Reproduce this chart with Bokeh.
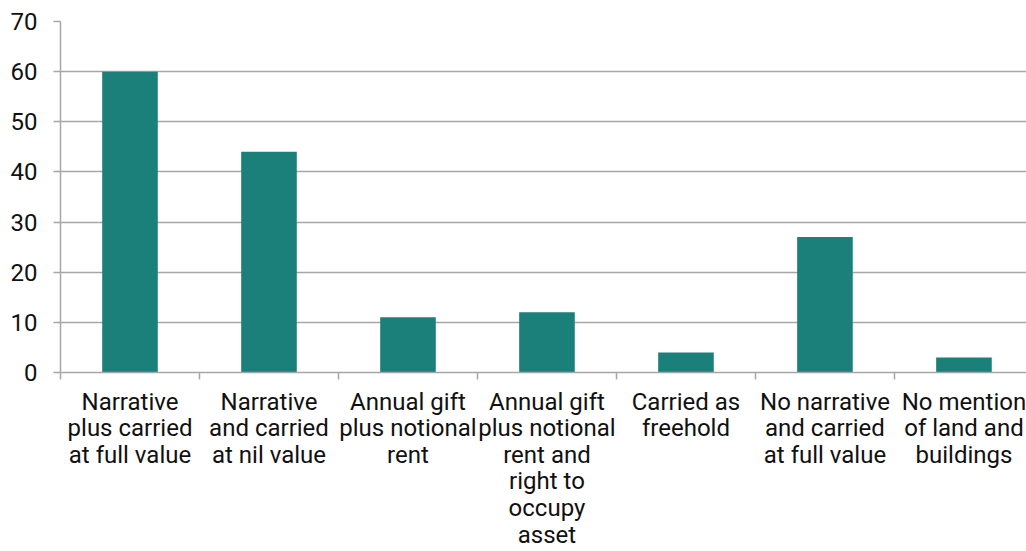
from bokeh.plotting import figure
from bokeh.models import Range1d, FixedTicker, ColumnDataSource
from bokeh.embed import file_html
from bokeh.resources import INLINE

categories = [
    "Narrative\nplus carried\nat full value",
    "Narrative\nand carried\nat nil value",
    "Annual gift\nplus notional\nrent",
    "Annual gift\nplus notional\nrent and\nright to\noccupy\nasset",
    "Carried as\nfreehold",
    "No narrative\nand carried\nat full value",
    "No mention\nof land and\nbuildings",
]
values = [60, 44, 11, 12, 4, 27, 3]
y_ticks = [0, 10, 20, 30, 40, 50, 60, 70]

n = len(categories)
centers = [i + 0.5 for i in range(n)]
src = ColumnDataSource(dict(x=centers, top=values))

p = figure(width=1026, height=551, output_backend="svg", toolbar_location=None,
           x_range=Range1d(0, 6.95), y_range=Range1d(0, 70),
           min_border_left=60, min_border_right=0, min_border_top=21, min_border_bottom=177)
p.outline_line_color = None
p.background_fill_color = "white"

p.vbar(x="x", top="top", width=0.4, bottom=0, source=src, color="#1b7f7a", line_color=None)

FONT = "Roboto"
TXT = "#111111"
GREY = "#a6a6a6"

xa = p.xaxis[0]
xa.ticker = FixedTicker(ticks=centers, minor_ticks=list(range(n + 1)))
xa.major_label_overrides = {c: lab for c, lab in zip(centers, categories)}
xa.major_tick_line_color = None
xa.major_tick_out = 0
xa.major_tick_in = 0
xa.minor_tick_out = 7
xa.minor_tick_in = 0
xa.minor_tick_line_color = GREY
xa.minor_tick_line_width = 1.5
xa.axis_line_color = GREY
xa.axis_line_width = 1.5
xa.major_label_text_font = FONT
xa.major_label_text_font_size = "24px"
xa.major_label_text_color = TXT
xa.major_label_standoff = 8
xa.major_label_text_line_height = 0.95

ya = p.yaxis[0]
ya.ticker = FixedTicker(ticks=y_ticks)
ya.axis_line_color = GREY
ya.axis_line_width = 1.5
ya.major_tick_out = 7
ya.major_tick_in = 0
ya.major_tick_line_color = GREY
ya.major_tick_line_width = 1.5
ya.minor_tick_line_color = None
ya.major_label_text_font = FONT
ya.major_label_text_font_size = "24px"
ya.major_label_text_color = TXT
ya.major_label_standoff = 16

p.xgrid.grid_line_color = None
p.ygrid.ticker = FixedTicker(ticks=y_ticks)
p.ygrid.grid_line_color = GREY
p.ygrid.grid_line_width = 1.5

open("out.html", "w").write(file_html(p, INLINE))
